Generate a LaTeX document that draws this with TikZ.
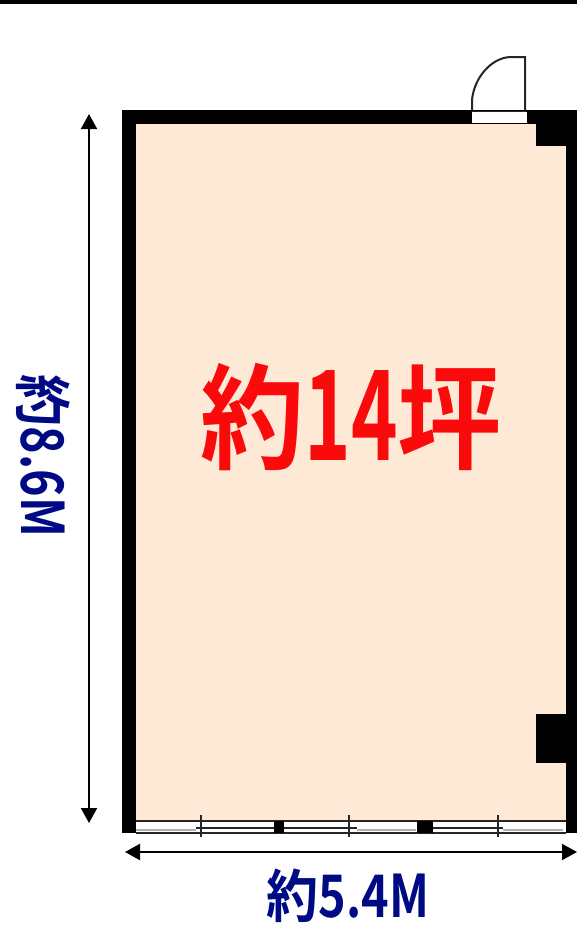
\documentclass[tikz,border=0pt]{standalone}
\usepackage{fontspec}
\usetikzlibrary{arrows.meta}
\setmainfont{Noto Sans CJK JP}[BoldFont={Noto Sans CJK JP Bold}]
\definecolor{floorc}{HTML}{FDE9D6}
\definecolor{navyc}{HTML}{000A85}
\definecolor{redc}{HTML}{FA0A0A}
\tikzset{
  wall/.style={fill=black,draw=none},
  thin line/.style={draw=black!85,line width=2pt},
  dim/.style={draw=black,line width=2pt,{Triangle[length=15pt,width=16pt]}-{Triangle[length=15pt,width=16pt]}},
  navylabel/.style={text=navyc,font=\bfseries\fontsize{52}{52}\selectfont,inner sep=0pt},
  bigred/.style={text=redc,font=\bfseries\fontsize{104}{104}\selectfont,inner sep=0pt}
}
\begin{document}
\begin{tikzpicture}[x=1pt,y=-1pt]
\useasboundingbox (0,0) rectangle (577,927);
\fill[white] (0,0) rectangle (577,927);
\fill[black] (0,0) rectangle (577,4);
% floor
\fill[floorc] (136,124) rectangle (566,820);
% walls
\fill[wall] (122,110) rectangle (577,124);
\fill[wall] (122,110) rectangle (136,833);
\fill[wall] (566,110) rectangle (577,833);
\fill[wall] (536,124) rectangle (566,146);
\fill[wall] (536,714) rectangle (566,763);
% door
\fill[white] (472,112) rectangle (527,123);
\draw[thin line] (472,110) -- (472,100) .. controls (474,78) and (491,58) .. (510,57) -- (525,57) -- (525,110);
\draw[draw=black!85,line width=1pt] (472,111) -- (526,111);
% window
\fill[white] (136,820) rectangle (566,833);
\draw[thin line] (136,821) -- (566,821);
\draw[thin line] (136,832.5) -- (566,832.5);
\draw[thin line] (196,827.5) -- (274,827.5);
\draw[thin line] (284,827.5) -- (357,827.5);
\draw[thin line] (433,827.5) -- (503,827.5);
\draw[draw=black!30,line width=2pt] (136,829.5) -- (196,829.5) (357,829.5) -- (416,829.5) (503,829.5) -- (563,829.5);
\fill[wall] (274,821) rectangle (284,833);
\fill[wall] (417,821) rectangle (433,833);
\draw[thin line] (201,815) -- (201,837);
\draw[thin line] (349,815) -- (349,837);
\draw[thin line] (498,815) -- (498,837);
% dimensions
\coordinate (vt) at (89,114);
\coordinate (vb) at (89,823);
\coordinate (hl) at (125,852);
\coordinate (hr) at (577,852);
\draw[dim] (vt) -- (vb);
\draw[dim] (hl) -- (hr);
% labels
\node[bigred] (area) at (351,417) {\scalebox{1}[1.1]{約}\scalebox{0.76}[1.2]{14}\scalebox{1}[1.1]{坪}};
\node[navylabel] (width) at (348,896) {\scalebox{1}[1.1]{約}\scalebox{0.9}[1.13]{5.4M}};
\node[navylabel,rotate=-90] (height) at (43,456) {\scalebox{1}[1.1]{約}\scalebox{0.9}[1.13]{8.6M}};
\end{tikzpicture}
\end{document}
